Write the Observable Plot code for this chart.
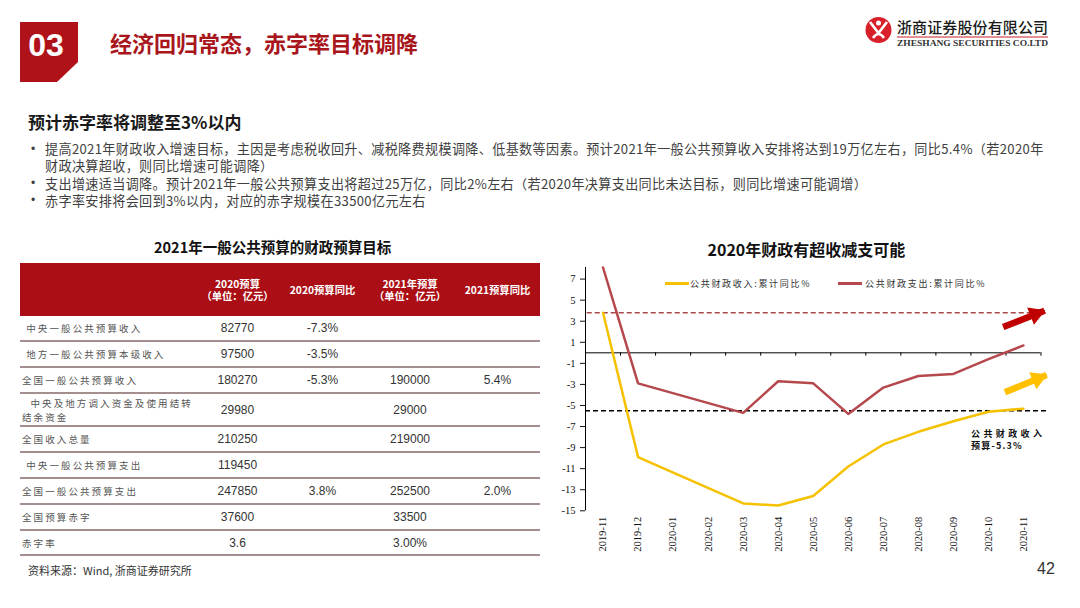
<!DOCTYPE html>
<html><head><meta charset="utf-8">
<script src="https://cdn.jsdelivr.net/npm/d3@7"></script>
<script src="https://cdn.jsdelivr.net/npm/@observablehq/plot@0.6"></script>
<style>
body{margin:0;width:1080px;height:608px;position:relative;background:#fff;font-family:"Noto Sans CJK SC","Noto Sans",sans-serif;overflow:hidden}
.t{position:absolute;white-space:nowrap;line-height:1}
#tbl{position:absolute;left:20px;top:263px;width:520px}
.hdr{display:flex;height:53px;background:#ab0e15;color:#fff;font-weight:bold;font-size:10px;align-items:center}
.row{display:flex;height:26px;box-sizing:border-box;border-bottom:2px solid #a48e8e;align-items:center}
.c0{width:175px;padding-left:2px;box-sizing:border-box;white-space:pre;font-size:9.5px;letter-spacing:2.1px;color:#555;line-height:14px}
.c1,.c2,.c3,.c4{text-align:center;font-family:"Liberation Sans",Arial,sans-serif;font-size:12px;color:#333}
.hdr .c1,.hdr .c2,.hdr .c3,.hdr .c4{color:#fff;font-family:"Noto Sans CJK SC",sans-serif;font-size:10.3px;line-height:12px;white-space:pre}
.c1{width:85px}.c2{width:85px}.c3{width:90px}.c4{width:85px}
#chart{position:absolute;left:560px;top:262px}
</style></head><body>
<svg class="t" style="left:0;top:0" width="1080" height="100">
  <polygon points="20,22 78,22 78,62 57,82 20,82" fill="#b0121a"/>
  <text x="46" y="56" text-anchor="middle" fill="#fff" font-family="Liberation Sans, Arial" font-weight="bold" font-size="32">03</text>
  <circle cx="878.5" cy="30" r="13" fill="#d7202a"/>
  <path d="M870,22 L878.5,33 L887,22 M873,38 Q878.5,30 884,38" stroke="#fff" stroke-width="2.6" fill="none"/>
  <circle cx="878.5" cy="23" r="2.5" fill="#fff"/>
  <text x="897" y="33" font-family="Noto Sans CJK SC" font-size="15" font-weight="500" fill="#1a1a1a" textLength="151">浙商证券股份有限公司</text>
  <line x1="897" y1="37" x2="1048" y2="37" stroke="#c8202a" stroke-width="1"/>
  <text x="897" y="46" font-family="Liberation Serif" font-weight="bold" font-size="8.6" fill="#333" textLength="151" lengthAdjust="spacingAndGlyphs">ZHESHANG SECURITIES CO.LTD</text>
</svg>
<div class="t" id="title" style="left:110px;top:31px;font-size:22px;font-weight:bold;color:#a8161c"></div>
<div class="t" id="heading" style="left:28px;top:112.5px;font-size:17px;font-weight:bold;color:#1a1a1a"></div>
<div id="bullets"></div>
<div class="t" id="ltitle" style="font-size:14.5px;font-weight:bold;color:#111"></div>
<div id="tbl"></div>
<div class="t" id="src" style="left:28px;top:564.5px;font-size:11px;color:#333"></div>
<div class="t" id="rtitle" style="font-size:16px;font-weight:bold;color:#111"></div>
<div id="chart"></div>
<div id="legend"></div>
<div id="annot"></div>
<div class="t" id="pageno" style="left:1037px;top:561px;font-size:16px;color:#333;font-family:'Liberation Sans',Arial"></div>
<script>
// ---------- text content ----------
const slideTitle = "经济回归常态，赤字率目标调降";
const sectionHeading = "预计赤字率将调整至3%以内";
const bulletLines = [
  "提高2021年财政收入增速目标，主因是考虑税收回升、减税降费规模调降、低基数等因素。预计2021年一般公共预算收入安排将达到19万亿左右，同比5.4%（若2020年",
  "财政决算超收，则同比增速可能调降）",
  "支出增速适当调降。预计2021年一般公共预算支出将超过25万亿，同比2%左右（若2020年决算支出同比未达目标，则同比增速可能调增）",
  "赤字率安排将会回到3%以内，对应的赤字规模在33500亿元左右"
];
const bulletStarts = [true, false, true, true];
const tableTitle = "2021年一般公共预算的财政预算目标";
const chartTitle = "2020年财政有超收减支可能";
const sourceNote = "资料来源：Wind, 浙商证券研究所";
const pageNumber = "42";

// ---------- table data ----------
const tableHeaders = ["", "2020预算\n（单位：亿元）", "2020预算同比", "2021年预算\n（单位：亿元）", "2021预算同比"];
const rowLabels = [" 中央一般公共预算收入", " 地方一般公共预算本级收入", "全国一般公共预算收入", "  中央及地方调入资金及使用结转\n结余资金", "全国收入总量", " 中央一般公共预算支出", "全国一般公共预算支出", "全国预算赤字", "赤字率"];
const budget2020 = ["82770", "97500", "180270", "29980", "210250", "119450", "247850", "37600", "3.6"];
const yoy2020 = ["-7.3%", "-3.5%", "-5.3%", "", "", "", "3.8%", "", ""];
const budget2021 = ["", "", "190000", "29000", "219000", "", "252500", "33500", "3.00%"];
const yoy2021 = ["", "", "5.4%", "", "", "", "2.0%", "", ""];

// ---------- chart data ----------
const months = ["2019-11","2019-12","2020-01","2020-02","2020-03","2020-04","2020-05","2020-06","2020-07","2020-08","2020-09","2020-10","2020-11"];
const revenueYoY = [3.8, -9.9, null, null, -14.3, -14.5, -13.6, -10.8, -8.7, -7.5, -6.5, -5.6, -5.3];
const expenditureYoY = [8.1, -2.9, null, null, -5.7, -2.7, -2.9, -5.8, -3.3, -2.2, -2.0, -0.6, 0.7];
const seriesNames = ["公共财政收入:累计同比%", "公共财政支出:累计同比%"];
const expenditureBudgetLine = 3.8;
const revenueBudgetLine = -5.5;
const budgetNote = ["公共财政收入", "预算-5.3%"];
const yTicks = [7, 5, 3, 1, -1, -3, -5, -7, -9, -11, -13, -15];
// trend arrows, in chart units (month index, %)
const expArrow = [{x1: 11.42, y1: 2.45, x2: 12.6, y2: 4.0}];
const revArrow = [{x1: 11.47, y1: -3.75, x2: 12.66, y2: -2.1}];

// ---------- build page ----------
document.getElementById("title").textContent = slideTitle;
document.getElementById("heading").textContent = sectionHeading;
document.getElementById("src").textContent = sourceNote;
document.getElementById("pageno").textContent = pageNumber;

const lineCenters = [148.8, 166, 183.2, 200.4];
const bl = d3.select("#bullets");
bulletLines.forEach((s, i) => {
  if (bulletStarts[i]) bl.append("div").attr("class", "t").style("left", "31px").style("top", (lineCenters[i] - 6) + "px")
    .style("font-size", "12px").style("font-family", "'Liberation Sans',Arial").style("color", "#404040").text("•");
  bl.append("div").attr("class", "t").style("left", "45px").style("top", (lineCenters[i] - 6.55) + "px")
    .style("font-size", "13.1px").style("letter-spacing", "0.35px").style("color", "#404040").text(s);
});

const lt = d3.select("#ltitle").text(tableTitle);
lt.style("left", (272.5 - lt.node().offsetWidth / 2) + "px").style("top", (247.5 - 7.25) + "px");
const rt = d3.select("#rtitle").text(chartTitle);
rt.style("left", (806.5 - rt.node().offsetWidth / 2) + "px").style("top", (248.5 - 8) + "px");

const tbl = d3.select("#tbl");
const hdr = tbl.append("div").attr("class", "hdr");
tableHeaders.forEach((h, j) => hdr.append("div").attr("class", "c" + j).text(h));
rowLabels.forEach((lab, i) => {
  const r = tbl.append("div").attr("class", "row")
    .style("height", (lab.includes("\n") ? 33 : (i === rowLabels.length - 1 ? 25 : 26)) + "px");
  r.append("div").attr("class", "c0").text(lab);
  r.append("div").attr("class", "c1").text(budget2020[i]);
  r.append("div").attr("class", "c2").text(yoy2020[i]);
  r.append("div").attr("class", "c3").text(budget2021[i]);
  r.append("div").attr("class", "c4").text(yoy2021[i]);
});

// ---------- chart ----------
const data = months.map((m, i) => ({i, m, rev: revenueYoY[i], exp: expenditureYoY[i]}));
const yellow = "#f5c100", red = "#b5484c";
const xMin = -0.5, xMax = months.length - 0.5;
const W = 500, H = 300, ML = 25, MR = 19.5, MT = 5, MB = 51.7;
const yDom = [-15, 8.1];
const pxX = (W - ML - MR) / (xMax - xMin), pxY = (H - MT - MB) / (yDom[1] - yDom[0]);
// arrowhead geometry (triangle symbol at the tip, pointing along the arrow)
function head(a, r) {
  const dx = (a.x2 - a.x1) * pxX, dy = -(a.y2 - a.y1) * pxY, L = Math.hypot(dx, dy);
  const back = 2 * r * Math.sqrt(Math.PI / (3 * Math.sqrt(3)));
  return {x: a.x2, y: a.y2, dx: -back * dx / L, dy: -back * dy / L, rot: Math.atan2(dx, -dy) * 180 / Math.PI};
}
const HR = 6.2;
const eh = head(expArrow[0], HR), rh = head(revArrow[0], HR);
const plot = Plot.plot({
  width: W, height: H,
  marginLeft: ML, marginRight: MR, marginTop: MT, marginBottom: MB,
  x: {type: "linear", domain: [xMin, xMax]},
  y: {domain: yDom},
  style: {fontFamily: "'Liberation Serif', 'Times New Roman', serif", fontSize: "10.5px", color: "#111", background: "transparent", overflow: "visible"},
  marks: [
    Plot.ruleY([0], {x1: xMin, x2: xMax, stroke: "#000", strokeWidth: 1}),
    Plot.ruleX(d3.range(months.length), {x: d => d + 0.5, y1: 0, y2: -0.32, stroke: "#000", strokeWidth: 1}),
    Plot.ruleX([xMin], {y1: -15, y2: 8.1, stroke: "#000", strokeWidth: 1}),
    Plot.axisY({ticks: yTicks, tickFormat: d => String(d), tickSize: 5, tickPadding: 5, label: null}),
    Plot.axisX({ticks: d3.range(months.length), tickFormat: i => months[i], tickRotate: -90, tickSize: 0, tickPadding: 6, label: null}),
    Plot.ruleY([expenditureBudgetLine], {x1: xMin + 0.05, x2: 12.65, stroke: "#a9474b", strokeWidth: 1.5, strokeDasharray: "5,3"}),
    Plot.ruleY([revenueBudgetLine], {x1: xMin, x2: 12.68, stroke: "#000", strokeWidth: 1.4, strokeDasharray: "5,3"}),
    Plot.line(data.filter(d => d.rev != null), {x: "i", y: "rev", stroke: yellow, strokeWidth: 2.5}),
    Plot.line(data.filter(d => d.exp != null), {x: "i", y: "exp", stroke: red, strokeWidth: 2.5}),
    Plot.link(expArrow, {x1: "x1", y1: "y1", x2: "x2", y2: "y2", stroke: "#c00000", strokeWidth: 6.5}),
    Plot.dot([eh], {x: "x", y: "y", dx: eh.dx, dy: eh.dy, rotate: eh.rot, symbol: "triangle", r: HR, fill: "#c00000", stroke: "#c00000", strokeWidth: 1}),
    Plot.link(revArrow, {x1: "x1", y1: "y1", x2: "x2", y2: "y2", stroke: "#ffc000", strokeWidth: 6.5}),
    Plot.dot([rh], {x: "x", y: "y", dx: rh.dx, dy: rh.dy, rotate: rh.rot, symbol: "triangle", r: HR, fill: "#ffc000", stroke: "#ffc000", strokeWidth: 1})
  ]
});
document.getElementById("chart").appendChild(plot);

// legend
const lg = d3.select("#legend");
[[665, yellow, 690], [838, red, 865]].forEach(([sx, col, tx], k) => {
  lg.append("div").attr("class", "t").style("left", sx + "px").style("top", "281.5px")
    .style("width", "24px").style("height", "3px").style("background", col);
  lg.append("div").attr("class", "t").style("left", tx + "px").style("top", "278.5px")
    .style("font-size", "9px").style("letter-spacing", "1.7px").style("color", "#333").text(seriesNames[k]);
});
// annotation
const an = d3.select("#annot");
an.append("div").attr("class", "t").style("left", "971px").style("top", "428.5px")
  .style("font-size", "9px").style("letter-spacing", "3.4px").style("font-weight", "bold").style("color", "#111").text(budgetNote[0]);
an.append("div").attr("class", "t").style("left", "971px").style("top", "440.5px")
  .style("font-size", "9px").style("letter-spacing", "1.2px").style("font-weight", "bold").style("color", "#111").text(budgetNote[1]);
</script>
</body></html>
